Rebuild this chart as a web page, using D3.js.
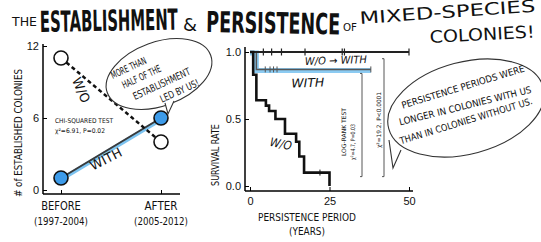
<!DOCTYPE html>
<html>
<head>
<meta charset="utf-8">
<script src="https://cdn.jsdelivr.net/npm/d3@7"></script>
<style>
  body { margin: 0; background: #fff; }
  svg { display: block; }
  text { font-family: "DejaVu Sans Condensed", "Liberation Sans Narrow", "Liberation Sans", sans-serif; fill: #111; }
  .num { font-family: "Liberation Sans", Arial, sans-serif; }
</style>
</head>
<body>
<svg id="chart" width="541" height="242"></svg>
<script>
// left panel: number of established colonies
var periods = ["BEFORE", "AFTER"];
var periodYears = ["(1997-2004)", "(2005-2012)"];
var estWithout = [11, 4];
var estWith = [1, 6];
var estTicks = [0, 6, 12];

// right panel: survival curves (time in years, survival rate)
var survWithoutT = [0, 1, 2, 5, 6, 8, 11, 14.5, 15.5, 17, 25];
var survWithoutS = [1, 0.83, 0.64, 0.6, 0.56, 0.5, 0.39, 0.33, 0.22, 0.1, 0];
var survWithoutCensor = [22];
var survWithT = [0, 2, 38];
var survWithS = [1, 0.87, 0.87];
var survWithCensor = [4.8, 6.3, 7.4, 8.5, 38];
var survSwitchT = [0, 50];
var survSwitchS = [1, 1];
var survSwitchCensor = [4.2, 6.8, 9.9, 17.3, 29, 29.7, 50];
var survTicks = [0, 0.5, 1];
var yearTicks = [0, 25, 50];

var svg = d3.select("#chart");
svg.append("rect").attr("width", 541).attr("height", 242).attr("fill", "#fff");

// fitted text helper: text centred on (x,y), squeezed to len, rotated by rot
function fitText(parent, txt, x, y, size, len, rot, opts) {
	opts = opts || {};
	var t = parent.append("text")
		.attr("transform", "translate(" + x + "," + y + ") rotate(" + (rot || 0) + ")")
		.attr("text-anchor", opts.anchor || "middle")
		.attr("font-size", size)
		.attr("font-weight", opts.weight || "normal")
		.text(txt);
	if (opts.italic) t.attr("font-style", "italic");
	if (len) t.attr("textLength", len).attr("lengthAdjust", "spacingAndGlyphs");
	return t;
}

// ---------- title ----------
var title = svg.append("g");
fitText(title, "THE", 12, 26, 13, 25, 0, {anchor: "start"});
fitText(title, "ESTABLISHMENT", 40, 32, 29, 138, -1, {anchor: "start", weight: "bold"});
fitText(title, "&", 183, 31, 17, 14, 0, {anchor: "start"});
fitText(title, "PERSISTENCE", 206, 32, 29, 134, 1, {anchor: "start", weight: "bold"});
fitText(title, "OF", 343, 31, 11, 14, 0, {anchor: "start"});
fitText(title, "MIXED-SPECIES", 360, 24, 17, 176, -4, {anchor: "start"});
fitText(title, "COLONIES!", 430, 43, 17, 105, -3, {anchor: "start"});

// ---------- left panel ----------
var xL = d3.scalePoint().domain(periods).range([61, 161]);
var yL = d3.scaleLinear().domain([0, 12]).range([190, 46]);

var gL = svg.append("g");
gL.append("g")
	.attr("transform", "translate(43,0)")
	.call(d3.axisLeft(yL).tickValues(estTicks).tickSize(-4).tickPadding(4))
	.call(function (g) {
		g.select(".domain").attr("d", "M0,44V194").attr("stroke-width", 1.5);
		g.selectAll("text").attr("class", "num").attr("font-size", 11).attr("font-family", null);
	});
gL.append("g")
	.attr("transform", "translate(0,194)")
	.call(d3.axisBottom(xL).tickSize(-4).tickFormat(""))
	.call(function (g) {
		g.select(".domain").attr("d", "M43,0H180").attr("stroke-width", 1.5);
	});

periods.forEach(function (p, i) {
	fitText(gL, p, xL(p), 210, 12, p.length * 6.6);
	fitText(gL, periodYears[i], xL(p), 225, 10.5, 54);
});

fitText(gL, "# of ESTABLISHED COLONIES", 22, 133, 10, 128, -90);

var lineL = d3.line().x(function (d, i) { return xL(periods[i]); }).y(function (d) { return yL(d); });

// with: blue glow under a dark line
gL.append("path").datum(estWith).attr("d", lineL)
	.attr("transform", "translate(0,1.5)")
	.attr("fill", "none").attr("stroke", "#7cc3f0").attr("stroke-width", 4);
gL.append("path").datum(estWith).attr("d", lineL)
	.attr("fill", "none").attr("stroke", "#3a3a3a").attr("stroke-width", 2);
gL.append("path").datum(estWithout).attr("d", lineL)
	.attr("fill", "none").attr("stroke", "#111").attr("stroke-width", 2.5)
	.attr("stroke-dasharray", "4,3");

gL.selectAll(".pw").data(estWithout).join("circle")
	.attr("cx", function (d, i) { return xL(periods[i]); })
	.attr("cy", function (d) { return yL(d); })
	.attr("r", 7).attr("fill", "#fff").attr("stroke", "#111").attr("stroke-width", 1.6);
gL.selectAll(".pb").data(estWith).join("circle")
	.attr("cx", function (d, i) { return xL(periods[i]); })
	.attr("cy", function (d) { return yL(d); })
	.attr("r", 7).attr("fill", "#3d9be9").attr("stroke", "#111").attr("stroke-width", 1.6);

fitText(gL, "W/O", 77, 92, 13, 26, 66);
fitText(gL, "WITH", 108, 163, 13, 34, -27);
fitText(gL, "CHI-SQUARED TEST", 55, 123, 6.5, 58, 0, {anchor: "start"});
fitText(gL, "χ²=6.91, P=0.02", 55, 133, 6.5, 50, 0, {anchor: "start"});

// ---------- speech bubbles ----------
function bubble(cx, cy, rx, ry, rot, tail) {
	var g = svg.append("g");
	g.append("ellipse")
		.attr("cx", cx).attr("cy", cy).attr("rx", rx).attr("ry", ry)
		.attr("transform", "rotate(" + rot + "," + cx + "," + cy + ")")
		.attr("fill", "#fff").attr("stroke", "#333").attr("stroke-width", 1.1);
	g.append("path")
		.attr("d", "M" + tail[0] + "L" + tail[1] + "L" + tail[2])
		.attr("fill", "#fff").attr("stroke", "#333").attr("stroke-width", 1.1);
	return g;
}
var b1 = bubble(159, 74, 55, 32, -20, [[165, 103], [168, 114], [174, 101]]);
fitText(b1, "MORE THAN", 130, 71, 10, 38, -25);
fitText(b1, "HALF OF THE", 143, 80, 10, 42, -25);
fitText(b1, "ESTABLISHMENT", 163, 87, 10, 62, -25);
fitText(b1, "LED BY US!", 181, 94, 10, 42, -25);

var b2 = bubble(466, 108, 80, 46, -15, [[389, 140], [393, 168], [401, 150]]);
fitText(b2, "PERSISTENCE PERIODS WERE", 464, 90, 9.5, 128, -17);
fitText(b2, "LONGER IN COLONIES WITH US", 466, 109, 9.5, 136, -14);
fitText(b2, "THAN IN COLONIES WITHOUT US.", 467, 124, 9.5, 138, -17);

// ---------- right panel ----------
var xR = d3.scaleLinear().domain([0, 50]).range([250, 409]);
var yR = d3.scaleLinear().domain([0, 1]).range([186, 52]);
var gR = svg.append("g");

gR.append("g")
	.attr("transform", "translate(245,0)")
	.call(d3.axisLeft(yR).tickValues(survTicks).tickFormat(d3.format(".1f")).tickSize(-4).tickPadding(4))
	.call(function (g) {
		g.select(".domain").attr("d", "M0,47V191").attr("stroke-width", 1.5);
		g.selectAll("text").attr("class", "num").attr("font-size", 11).attr("font-family", null);
	});
gR.append("g")
	.attr("transform", "translate(0,191)")
	.call(d3.axisBottom(xR).tickValues(yearTicks).tickSize(-4).tickPadding(6))
	.call(function (g) {
		g.select(".domain").attr("d", "M245,0H413").attr("stroke-width", 1.5);
		g.selectAll("text").attr("class", "num").attr("font-size", 11).attr("font-family", null);
	});

fitText(gR, "SURVIVAL RATE", 219, 155, 10, 62, -90);
fitText(gR, "PERSISTENCE PERIOD", 307, 221, 11, 98);
fitText(gR, "(YEARS)", 307, 235, 10.5, 36);

var step = d3.line().curve(d3.curveStepAfter)
	.x(function (d) { return xR(d[0]); }).y(function (d) { return yR(d[1]); });
function pts(T, S) { return T.map(function (t, i) { return [t, S[i]]; }); }
function survAt(T, S, t) {
	var s = S[0];
	T.forEach(function (tt, i) { if (tt <= t) s = S[i]; });
	return s;
}
function censor(T, S, C, h, w, color) {
	gR.selectAll(null).data(C).join("line")
		.attr("x1", function (d) { return xR(d); }).attr("x2", function (d) { return xR(d); })
		.attr("y1", function (d) { return yR(survAt(T, S, d)) - h; })
		.attr("y2", function (d) { return yR(survAt(T, S, d)) + h; })
		.attr("stroke", color).attr("stroke-width", w);
}

// with (blue highlight)
gR.append("path").datum(pts(survWithT, survWithS)).attr("d", step)
	.attr("transform", "translate(0,1)")
	.attr("fill", "none").attr("stroke", "#8ccbf2").attr("stroke-width", 5);
gR.append("path").datum(pts(survWithT, survWithS)).attr("d", step)
	.attr("fill", "none").attr("stroke", "#555").attr("stroke-width", 1.5);
censor(survWithT, survWithS, survWithCensor, 3, 1, "#555");

// w/o -> with
gR.append("path").datum(pts(survSwitchT, survSwitchS)).attr("d", step)
	.attr("fill", "none").attr("stroke", "#222").attr("stroke-width", 2);
censor(survSwitchT, survSwitchS, survSwitchCensor, 3.5, 1.2, "#222");

// w/o
gR.append("path").datum(pts(survWithoutT, survWithoutS)).attr("d", step)
	.attr("fill", "none").attr("stroke", "#111").attr("stroke-width", 2.6);
censor(survWithoutT, survWithoutS, survWithoutCensor, 3, 1, "#111");

fitText(gR, "W/O → WITH", 336, 64, 10.5, 62, -2, {italic: true});
fitText(gR, "WITH", 308, 87, 12, 33, -2, {italic: true});
fitText(gR, "W/O", 280, 148, 12, 22, 12, {italic: true});

// brackets for the log-rank tests
function bracket(x, top, bottom) {
	gR.append("path")
		.attr("d", "M" + (x - 2) + "," + yR(top) + "H" + x + "V" + yR(bottom) + "H" + (x - 2))
		.attr("fill", "none").attr("stroke", "#444").attr("stroke-width", 0.9);
}
bracket(362, 0.84, 0.07);
bracket(384, 0.95, 0.07);
fitText(gR, "LOG-RANK TEST", 346, 132, 6, 48, -90);
fitText(gR, "χ²=4.7, P=0.03", 355, 142, 6, 36, -90);
fitText(gR, "χ²=19.2, P<0.0001", 381, 120, 6, 56, -90);
</script>
</body>
</html>
